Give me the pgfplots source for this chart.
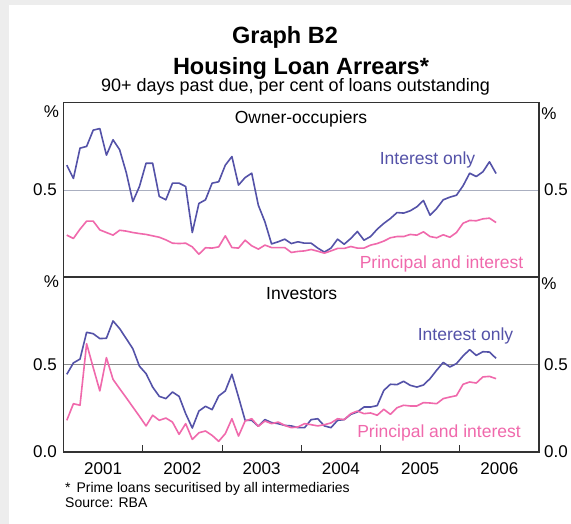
\documentclass[border=0pt]{standalone}
\usepackage{fontspec}
\setmainfont{Liberation Sans}
\usepackage{pgfplots}
\usepackage{pgfplotstable}
\pgfplotsset{compat=1.18}

\definecolor{io}{RGB}{84,82,168}
\definecolor{pi}{RGB}{240,105,172}
\definecolor{bg}{RGB}{237,237,237}
\definecolor{frame}{RGB}{50,50,50}

% month index (0 = Jan 2001), interest only, principal and interest
\pgfplotstableread{
m io pi
0 0.642 0.242
1 0.566 0.223
2 0.739 0.276
3 0.749 0.322
4 0.842 0.322
5 0.851 0.272
6 0.699 0.257
7 0.787 0.242
8 0.730 0.270
9 0.600 0.265
10 0.434 0.257
11 0.520 0.251
12 0.653 0.246
13 0.653 0.238
14 0.463 0.230
15 0.444 0.215
16 0.539 0.196
17 0.539 0.194
18 0.520 0.196
19 0.257 0.175
20 0.423 0.133
21 0.444 0.170
22 0.539 0.168
23 0.547 0.175
24 0.642 0.238
25 0.691 0.171
26 0.528 0.168
27 0.571 0.213
28 0.596 0.181
29 0.413 0.162
30 0.318 0.185
31 0.192 0.171
32 0.204 0.171
33 0.219 0.171
34 0.194 0.143
35 0.204 0.149
36 0.196 0.152
37 0.196 0.160
38 0.168 0.150
39 0.145 0.139
40 0.168 0.152
41 0.219 0.166
42 0.190 0.166
43 0.223 0.177
44 0.263 0.168
45 0.213 0.168
46 0.234 0.185
47 0.276 0.194
48 0.309 0.208
49 0.337 0.227
50 0.371 0.234
51 0.368 0.234
52 0.381 0.246
53 0.404 0.242
54 0.440 0.261
55 0.356 0.234
56 0.394 0.227
57 0.444 0.244
58 0.459 0.230
59 0.470 0.257
60 0.524 0.310
61 0.596 0.326
62 0.577 0.324
63 0.604 0.335
64 0.661 0.339
65 0.594 0.314
}\owner

\pgfplotstableread{
m io pi
0 0.444 0.181
1 0.509 0.276
2 0.531 0.267
3 0.684 0.619
4 0.676 0.482
5 0.648 0.349
6 0.650 0.539
7 0.749 0.415
8 0.705 0.362
9 0.648 0.310
10 0.590 0.257
11 0.490 0.204
12 0.448 0.149
13 0.371 0.210
14 0.318 0.181
15 0.305 0.194
16 0.343 0.171
17 0.318 0.101
18 0.219 0.162
19 0.137 0.072
20 0.234 0.110
21 0.261 0.120
22 0.242 0.095
23 0.320 0.061
24 0.349 0.105
25 0.444 0.190
26 0.314 0.091
27 0.181 0.177
28 0.181 0.190
29 0.147 0.147
30 0.185 0.177
31 0.168 0.162
32 0.162 0.171
33 0.152 0.152
34 0.149 0.139
35 0.139 0.143
36 0.139 0.162
37 0.185 0.156
38 0.190 0.149
39 0.149 0.156
40 0.139 0.166
41 0.181 0.190
42 0.185 0.185
43 0.215 0.219
44 0.229 0.234
45 0.257 0.219
46 0.257 0.223
47 0.265 0.210
48 0.352 0.244
49 0.387 0.215
50 0.385 0.253
51 0.404 0.267
52 0.381 0.263
53 0.371 0.263
54 0.383 0.282
55 0.419 0.280
56 0.467 0.276
57 0.512 0.305
58 0.486 0.314
59 0.505 0.322
60 0.549 0.387
61 0.585 0.400
62 0.552 0.394
63 0.573 0.429
64 0.571 0.432
65 0.535 0.419
}\investor

\pgfplotsset{
  panel/.style={
    scale only axis, width=475.5bp, height=175bp,
    xmin=-0.5, xmax=71.5, ymin=0, ymax=1,
    axis line style={line width=1.2bp, frame},
    ytick={0.5}, yticklabels={}, ymajorgrids,
    major tick length=0pt,
    tick label style={font=\fontsize{17bp}{20bp}\selectfont},
    every axis plot/.append style={line width=1.6bp, line join=round, no markers},
  }
}

\begin{document}
\begin{tikzpicture}
\begin{scope}[x=1bp,y=1bp]
\useasboundingbox (0,0) rectangle (571,524);
\fill[bg] (0,0) rectangle (571,524);
\fill[white] (9,0) rectangle (571,519);
\node[anchor=base,font=\fontsize{23.5bp}{26bp}\selectfont\bfseries] at (285,480) {Graph B2};
\node[anchor=base,font=\fontsize{23.5bp}{26bp}\selectfont\bfseries] at (301,449) {Housing Loan Arrears*};
\node[anchor=base,font=\fontsize{18bp}{20bp}\selectfont] at (295.5,432) {90+ days past due, per cent of loans outstanding};
\end{scope}

\begin{axis}[panel, at={(63.5bp,246.5bp)}, anchor=south west,
  xtick=\empty,
  grid style={line width=0.8bp, color={rgb,255:red,170;green,175;blue,192}}]
\addplot[io] table[x=m, y=io] {\owner};
\addplot[pi] table[x=m, y=pi] {\owner};
\end{axis}

\begin{axis}[panel, at={(63.5bp,72bp)}, anchor=south west,
  xtick={5.5,17.5,29.5,41.5,53.5,65.5},
  xticklabels={2001,2002,2003,2004,2005,2006},
  minor xtick={11.5,23.5,35.5,47.5,59.5},
  minor tick length=6.5bp, xtick pos=bottom,
  minor tick style={line width=1bp, frame},
  xticklabel style={anchor=base, yshift=-23bp},
  grid style={line width=0.8bp, color={rgb,255:red,140;green,140;blue,140}}]
\addplot[io] table[x=m, y=io] {\investor};
\addplot[pi] table[x=m, y=pi] {\investor};
\end{axis}

\begin{scope}[x=1bp,y=1bp]
\begin{scope}[every node/.style={font=\fontsize{17bp}{20bp}\selectfont, inner sep=0pt}]
\node[anchor=east] at (57,334) {0.5};
\node[anchor=west] at (544,334) {0.5};
\node[anchor=east] at (57,159) {0.5};
\node[anchor=west] at (544,159) {0.5};
\node[anchor=east] at (57,72) {0.0};
\node[anchor=west] at (544,72) {0.0};
\node at (51.5,412.5) {\%};
\node at (549,410.5) {\%};
\node at (51.5,242.5) {\%};
\node at (549,240.5) {\%};
\end{scope}

\begin{scope}[every node/.style={font=\fontsize{17.5bp}{20bp}\selectfont, anchor=base, inner sep=0pt}]
\node at (301,400) {Owner-occupiers};
\node at (301.7,224) {Investors};
\node[text=io] at (427.5,359.5) {Interest only};
\node[text=pi] at (441.5,255.5) {Principal and interest};
\node[text=io] at (465.5,183) {Interest only};
\node[text=pi] at (439,86.5) {Principal and interest};
\end{scope}

\begin{scope}[every node/.style={font=\fontsize{14bp}{16bp}\selectfont, anchor=base west, inner sep=0pt}]
\node at (65,31) {*\hspace{6bp}Prime loans securitised by all intermediaries};
\node at (65,16) {Source: RBA};
\end{scope}
\end{scope}
\end{tikzpicture}
\end{document}
